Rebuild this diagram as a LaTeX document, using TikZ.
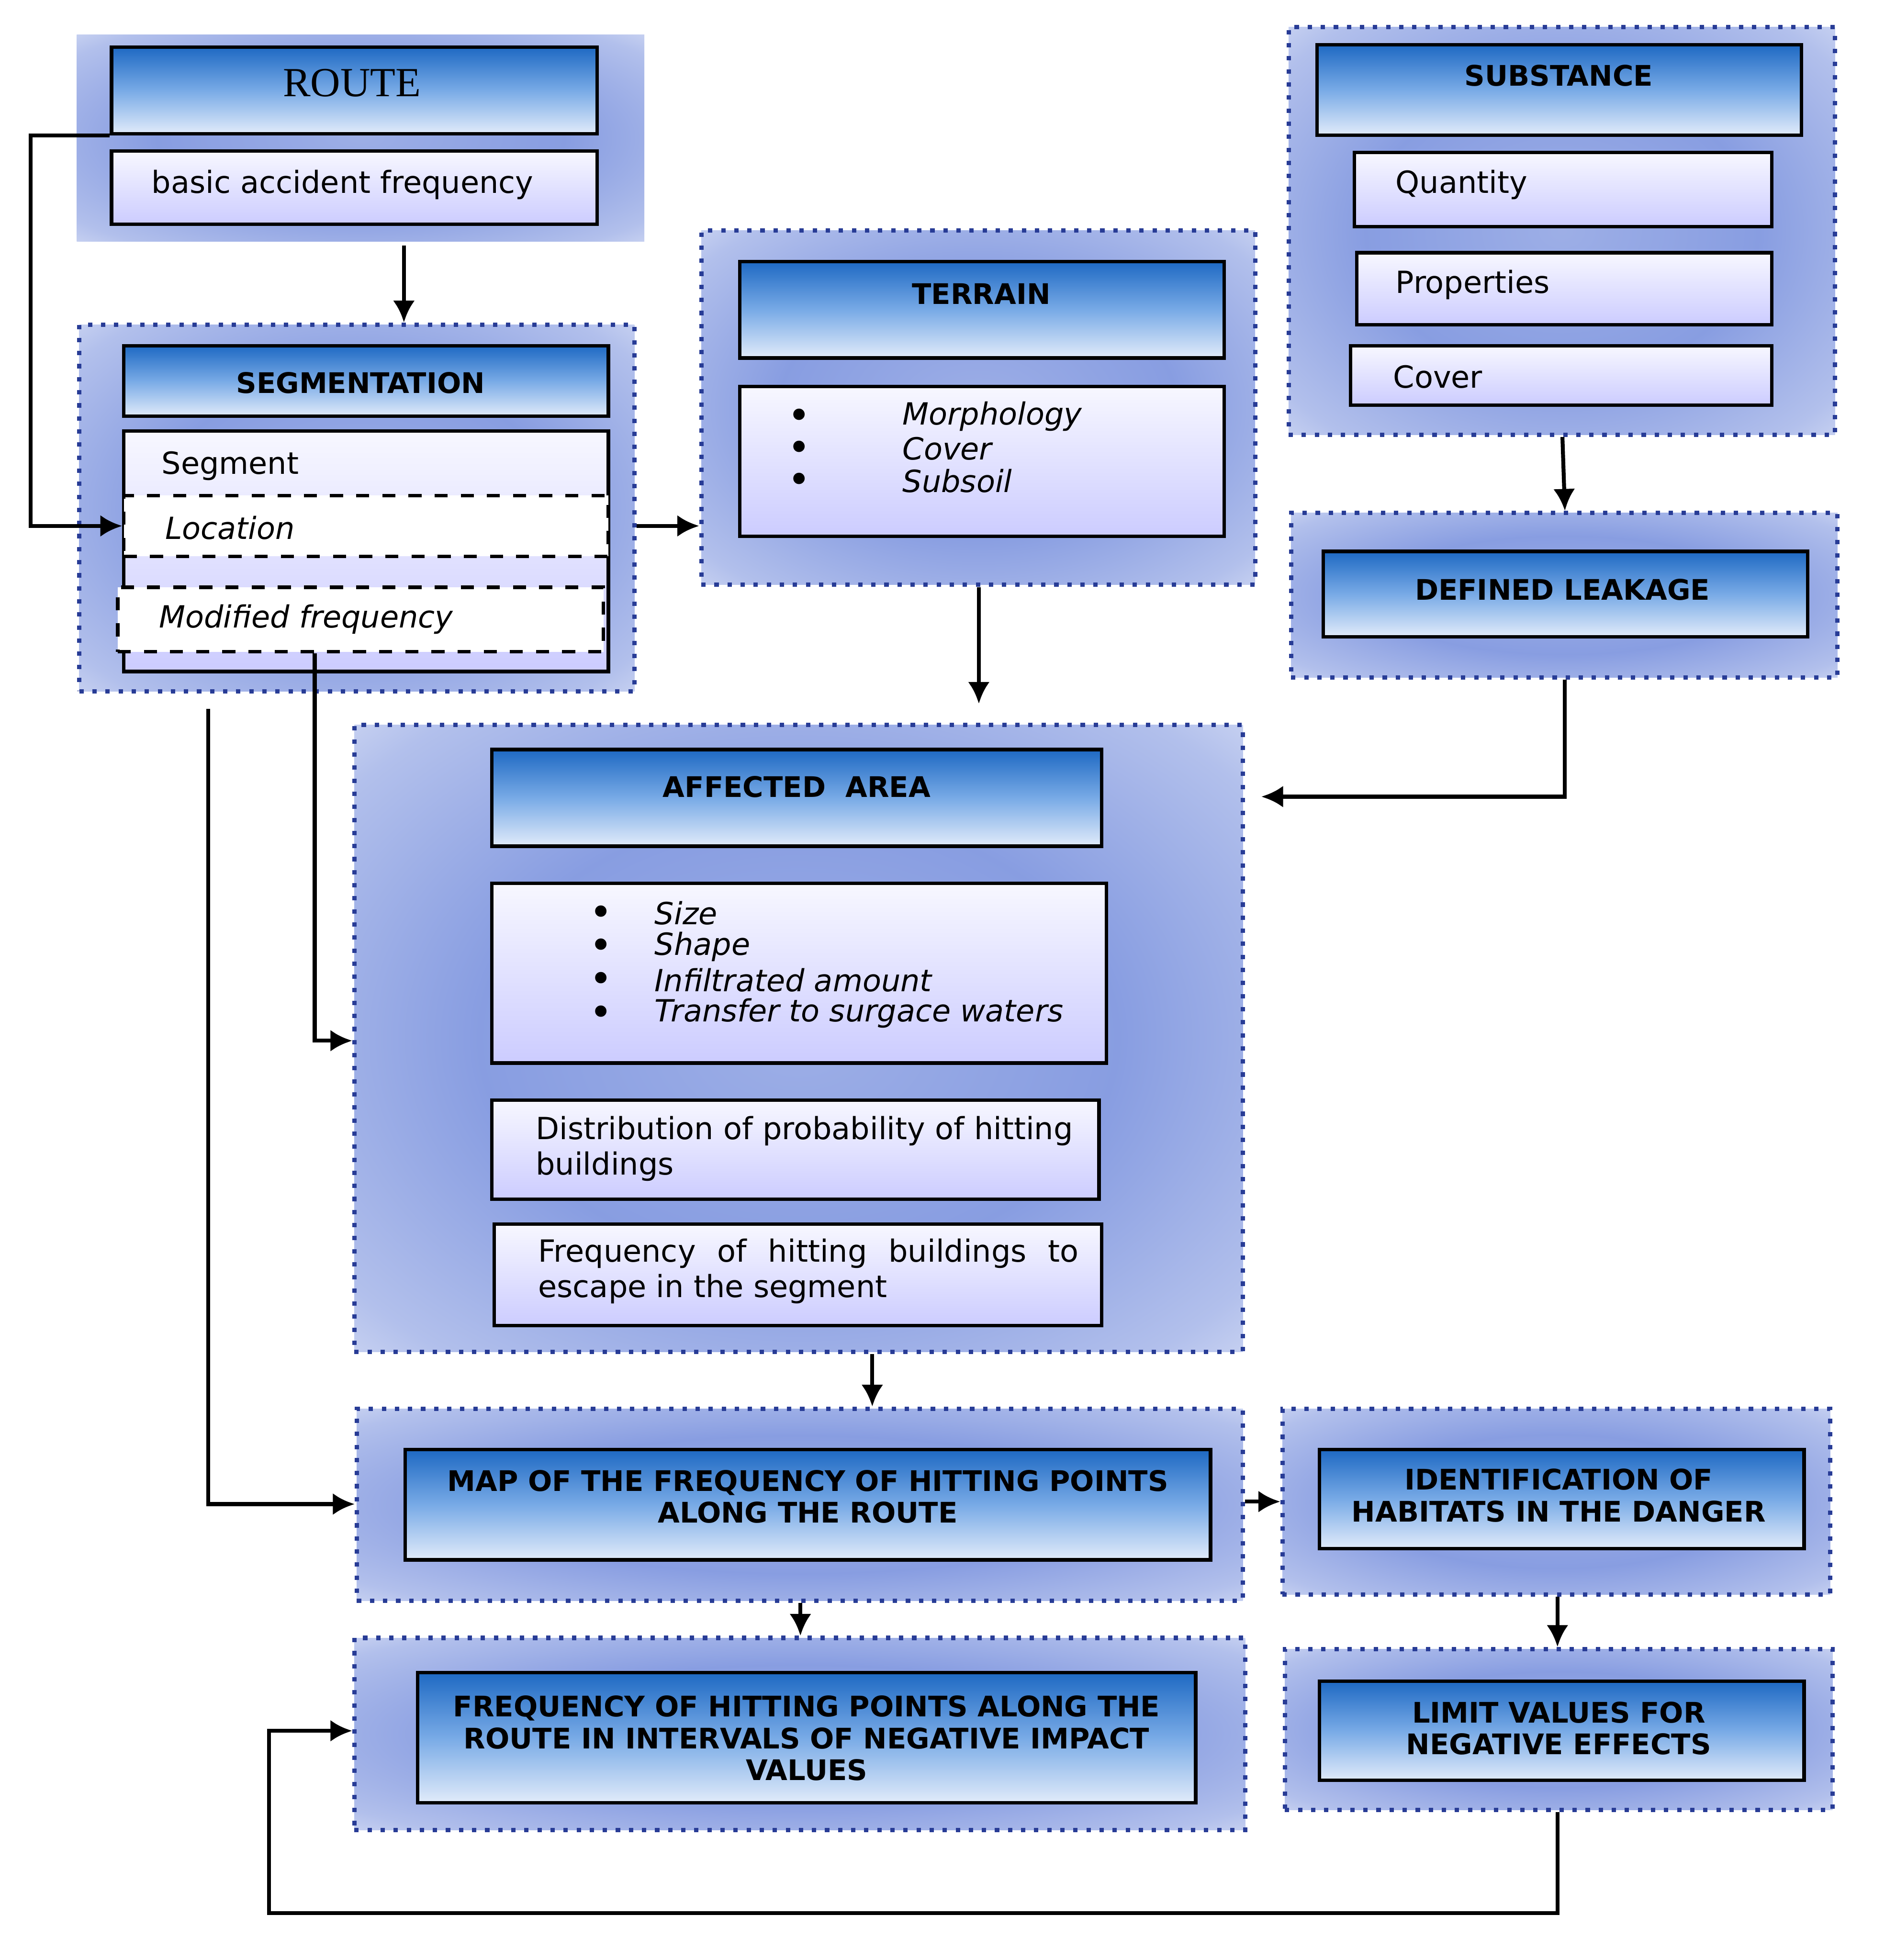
\documentclass[tikz,border=0pt]{standalone}
\usepackage{fontspec}
\setmainfont{DejaVu Sans}
\newfontfamily\routefont{Liberation Serif}
\usetikzlibrary{fit, arrows.meta}

\definecolor{hdrtop}{RGB}{30,105,195}
\definecolor{hdrmid}{RGB}{120,170,230}
\definecolor{hdrbot}{RGB}{225,235,250}
\definecolor{grpblue}{RGB}{115,140,220}
\definecolor{dotblue}{RGB}{40,60,150}
\pgfdeclareradialshading{grpshade}{\pgfpoint{0bp}{0bp}}{%
  color(0bp)=(grpblue!70!white); color(18bp)=(grpblue!85!white);
  color(32bp)=(grpblue!55!white); color(42bp)=(grpblue!15!white); color(50bp)=(white)}

\tikzset{
  group/.style={draw=dotblue, dotted, line width=1pt, shading=grpshade, inner sep=0pt},
  hdr/.style={draw=black, line width=0.8pt, top color=hdrtop, bottom color=hdrbot,
    middle color=hdrmid, inner sep=0pt},
  box/.style={draw=black, line width=0.8pt, top color=blue!3, bottom color=blue!20, inner sep=0pt},
  dbox/.style={draw=black, dashed, line width=0.8pt, fill=white, inner sep=0pt},
  htxt/.style={font=\fontsize{6.5}{7.3}\selectfont\bfseries, align=center},
  btxt/.style={font=\fontsize{7}{8.1}\selectfont, anchor=west},
  bul/.style={font=\small, inner sep=0pt},
  arr/.style={line width=0.9pt, -{Latex[length=5pt,width=5pt]}},
}

\begin{document}
\begin{tikzpicture}[x=0.01cm, y=-0.01cm]
    \useasboundingbox (0,0) rectangle (1530,1582);
    % Groups
    \node[group, draw=none, fit={(62,28)(520,195)}] (routeg) {};
    \node[group, fit={(64,262)(512,558)}] (segg) {};
    \node[group, fit={(566,186)(1013,472)}] (terg) {};
    \node[group, fit={(1040,22)(1481,351)}] (subg) {};
    \node[group, fit={(1042,414)(1483,547)}] (leakg) {};
    \node[group, fit={(286,585)(1003,1091)}] (areag) {};
    \node[group, fit={(288,1137)(1003,1292)}] (mapg) {};
    \node[group, fit={(1035,1137)(1477,1287)}] (idg) {};
    \node[group, fit={(286,1322)(1005,1477)}] (freqg) {};
    \node[group, fit={(1037,1331)(1479,1461)}] (limg) {};
    % Route
    \node[hdr, fit={(90,38)(482,108)}] (routeh) {};
    \node[font=\routefont\fontsize{9.5}{10}\selectfont] (routet) at (284,67) {ROUTE};
    \node[box, fit={(90,122)(482,181)}] (basic) {};
    \node[btxt] (basict) at (110,149) {basic accident frequency};
    % Segmentation
    \node[hdr, fit={(100,279)(491,336)}] (segh) {};
    \node[htxt] (segt) at (291,309) {SEGMENTATION};
    \node[box, fit={(100,348)(491,542)}] (segb) {};
    \node[btxt] (segmt) at (118,376) {Segment};
    \node[dbox, fit={(100,400)(491,449)}] (loc) {};
    \node[btxt] (loct) at (121,426) {\itshape Location};
    \node[dbox, fit={(95,474)(487,526)}] (modf) {};
    \node[btxt] (modft) at (116,500) {\itshape Modified frequency};
    % Terrain
    \node[hdr, fit={(597,211)(988,289)}] (terh) {};
    \node[htxt] (tert) at (792,237) {TERRAIN};
    \node[box, fit={(597,312)(988,433)}] (terb) {};
    \foreach \t [count=\i] in {Morphology, Cover, Subsoil} {
      \node[bul] (terd\i) at (645,{338+26*(\i-1)}) {\textbullet};
      \node[btxt] (tert\i) at (716,{336+26*(\i-1)}) {\itshape\t};
    }
    % Substance
    \node[hdr, fit={(1063,36)(1454,109)}] (subh) {};
    \node[htxt] (subt) at (1258,61) {SUBSTANCE};
    \node[box, fit={(1093,123)(1430,183)}] (qty) {};
    \node[btxt] (qtyt) at (1114,149) {Quantity};
    \node[box, fit={(1095,204)(1430,262)}] (prop) {};
    \node[btxt] (propt) at (1114,230) {Properties};
    \node[box, fit={(1090,279)(1430,327)}] (cov) {};
    \node[btxt] (covt) at (1112,304) {Cover};
    % Defined leakage
    \node[hdr, fit={(1068,445)(1459,514)}] (leakh) {};
    \node[htxt] (leakt) at (1261,476) {DEFINED LEAKAGE};
    % Affected area
    \node[hdr, fit={(397,605)(889,683)}] (areah) {};
    \node[htxt] (areat) at (643,635) {AFFECTED\ \ AREA};
    \node[box, fit={(397,713)(893,858)}] (areab) {};
    \foreach \t [count=\i] in {Size, Shape, Infiltrated amount, Transfer to surgace waters} {
      \node[bul] (aread\i) at (485,{739+27*(\i-1)}) {\textbullet};
      \node[btxt] (areat\i) at (516,{737+27*(\i-1)}) {\itshape\t};
    }
    \node[box, fit={(397,888)(887,968)}] (dist) {};
    \node[btxt, align=left] (distt) at (420,927) {Distribution of probability of hitting\\buildings};
    \node[box, fit={(399,988)(889,1070)}] (hitf) {};
    \node[btxt, align=justify, text width=4.36cm] (hitft) at (422,1026) {Frequency of hitting buildings to\linebreak escape in the segment};
    % Bottom headers
    \node[hdr, fit={(327,1170)(977,1259)}] (maph) {};
    \node[htxt] (mapt) at (652,1208) {MAP OF THE FREQUENCY OF HITTING POINTS\\ALONG THE ROUTE};
    \node[hdr, fit={(1065,1170)(1456,1250)}] (idh) {};
    \node[htxt] (idt) at (1258,1207) {IDENTIFICATION OF\\HABITATS IN THE DANGER};
    \node[hdr, fit={(337,1350)(965,1455)}] (freqh) {};
    \node[htxt] (freqt) at (651,1403) {FREQUENCY OF HITTING POINTS ALONG THE\\ROUTE IN INTERVALS OF NEGATIVE IMPACT\\VALUES};
    \node[hdr, fit={(1065,1357)(1456,1437)}] (limh) {};
    \node[htxt] (limt) at (1258,1395) {LIMIT VALUES FOR\\NEGATIVE EFFECTS};
    % Connectors
    \coordinate (ll) at (217,1544);
    \draw[arr] (routeh.south west) -- ++(-64,0) |- (loc.west);
    \draw[arr] (326,198) -- (segg.north -| 326,0);
    \draw[arr] (segg.east |- loc) -- (terg.west |- loc);
    \draw[arr] (790,474) -- (790,568);
    \draw[arr] (subg.south -| 1261,0) -- (leakg.north -| 1263,0);
    \draw[arr] (leakg.south -| 1263,0) |- (1018,643);
    \draw[arr] (modf.south -| 254,0) |- (areag.west |- 0,840);
    \draw[arr] (168,572) |- (mapg.west |- 0,1214);
    \draw[arr] (areag.south -| 704,0) -- (mapg.north -| 704,0);
    \draw[arr] (mapg.east |- 0,1212) -- (idg.west |- 0,1212);
    \draw[arr] (mapg.south -| 646,0) -- (freqg.north -| 646,0);
    \draw[arr] (idg.south -| 1257,0) -- (limg.north -| 1257,0);
    \draw[arr] (limg.south -| 1257,0) |- (ll) |- (freqg.west |- 0,1397);
\end{tikzpicture}
\end{document}
